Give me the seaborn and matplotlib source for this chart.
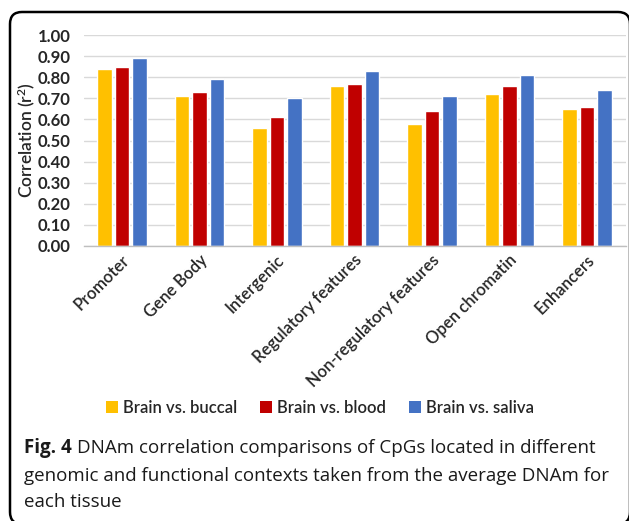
import matplotlib
matplotlib.use("Agg")
import matplotlib.pyplot as plt
import matplotlib.transforms as mtransforms
from matplotlib.patches import FancyBboxPatch, Patch
import seaborn as sns
import pandas as pd

# Genomic / functional contexts on the x axis
categories = ["Promoter", "Gene Body", "Intergenic", "Regulatory features",
              "Non-regulatory features", "Open chromatin", "Enhancers"]
# Tissue comparisons (hue)
comparisons = ["Brain vs. buccal", "Brain vs. blood", "Brain vs. saliva"]
# Correlation (r^2) of average DNAm per context
buccal = [0.84, 0.71, 0.56, 0.76, 0.58, 0.72, 0.65]
blood = [0.85, 0.73, 0.61, 0.77, 0.64, 0.76, 0.66]
saliva = [0.89, 0.79, 0.70, 0.83, 0.71, 0.81, 0.74]
yticks = [0.0, 0.1, 0.2, 0.3, 0.4, 0.5, 0.6, 0.7, 0.8, 0.9, 1.0]
ytick_labels = ["0.00", "0.10", "0.20", "0.30", "0.40", "0.50",
                "0.60", "0.70", "0.80", "0.90", "1.00"]

colors = ["#FFC000", "#C00000", "#4472C4"]

df = pd.DataFrame({
    "context": categories * 3,
    "comparison": [c for c in comparisons for _ in categories],
    "r2": buccal + blood + saliva,
})

sns.set_theme(style="white")
plt.rcParams["font.family"] = ["Lato", "DejaVu Sans"]
plt.rcParams["mathtext.default"] = "regular"

W, H = 629, 521
fig = plt.figure(figsize=(W / 100, H / 100), dpi=100)
fig.patch.set_facecolor("white")

ax = fig.add_axes([83.5 / W, (H - 246) / H, (625.5 - 83.5) / W, (246 - 35) / H])
sns.barplot(data=df, x="context", y="r2", hue="comparison", order=categories,
            hue_order=comparisons, palette=colors, saturation=1,
            width=0.68, gap=0.17, legend=False, ax=ax)

ax.set_ylim(0, 1.0)
ax.set_xlim(-0.5, len(categories) - 0.5)
ax.set_yticks(yticks)
ax.set_yticklabels(ytick_labels, fontsize=12, fontweight="bold", color="#262626")
ax.yaxis.grid(True, color="#d9d9d9", linewidth=1.0)
ax.set_axisbelow(True)
for side in ["left", "right", "top"]:
    ax.spines[side].set_visible(False)
ax.spines["bottom"].set_color("#bfbfbf")
ax.spines["bottom"].set_linewidth(1.0)
ax.tick_params(axis="both", length=0)
ax.tick_params(axis="y", pad=9)
ax.tick_params(axis="x", pad=4)
ax.set_xlabel("")
ax.set_ylabel("Correlation (r$^2$)", fontsize=12.5, fontweight="semibold",
              color="#262626", labelpad=1)

offset = mtransforms.ScaledTranslation(5 / 100, -6 / 100, fig.dpi_scale_trans)
for lab in ax.get_xticklabels():
    lab.set_rotation(45)
    lab.set_ha("right")
    lab.set_va("center")
    lab.set_rotation_mode("anchor")
    lab.set_fontsize(12)
    lab.set_fontweight("semibold")
    lab.set_color("#262626")
    lab.set_transform(lab.get_transform() + offset)

handles = [Patch(facecolor=c, edgecolor="none") for c in colors]
fig.legend(handles, comparisons, loc="center", bbox_to_anchor=(320 / W, 1 - 408 / H),
           ncol=3, frameon=False, handlelength=0.7, handleheight=0.7,
           handletextpad=0.3, columnspacing=1.4,
           prop={"size": 12, "weight": "semibold"})

# Figure caption under the chart
cap_family = ["Open Sans", "DejaVu Sans"]
cap_size = 13.5
x0 = 24 / W
y1 = 1 - 453 / H
t_bold = fig.text(x0, y1, "Fig. 4", fontsize=cap_size, fontweight="bold",
                  family=cap_family, color="#1a1a1a", va="baseline")
fig.canvas.draw()
bb = t_bold.get_window_extent(renderer=fig.canvas.get_renderer())
space = 5
fig.text((bb.x1 + space) / W, y1,
         "DNAm correlation comparisons of CpGs located in different",
         fontsize=cap_size, family=cap_family, color="#1a1a1a", va="baseline")
fig.text(x0, 1 - 481 / H,
         "genomic and functional contexts taken from the average DNAm for",
         fontsize=cap_size, family=cap_family, color="#1a1a1a", va="baseline")
fig.text(x0, 1 - 507 / H, "each tissue",
         fontsize=cap_size, family=cap_family, color="#1a1a1a", va="baseline")

# Rounded frame around the figure panel
frame = FancyBboxPatch((10, -3), 620, H - 12 + 3,
                       boxstyle="round,pad=0,rounding_size=12",
                       transform=mtransforms.IdentityTransform(),
                       facecolor="none", edgecolor="black", linewidth=1.8)
fig.add_artist(frame)

fig.savefig("out.png", dpi=100)
